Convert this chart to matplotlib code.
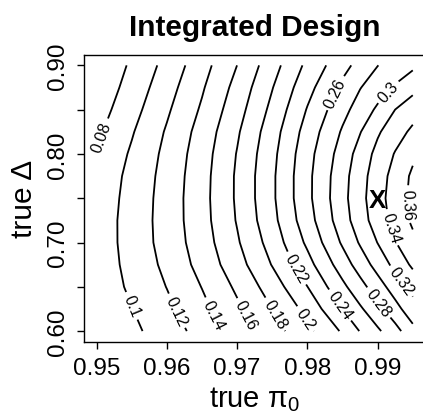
import numpy as np
import matplotlib.pyplot as plt

plt.rcParams['font.family'] = ['Liberation Sans', 'DejaVu Sans']
plt.rcParams['mathtext.fontset'] = 'custom'
plt.rcParams['mathtext.rm'] = 'Liberation Sans'
plt.rcParams['mathtext.it'] = 'Liberation Sans:italic'

# grid: true pi0 (columns) x true Delta (rows)
pi0 = [0.95, 0.955, 0.96, 0.965, 0.97, 0.975, 0.98, 0.985, 0.9875, 0.99, 0.9925, 0.995]
delta = [0.600, 0.625, 0.650, 0.675, 0.700, 0.725, 0.750, 0.775, 0.800, 0.825, 0.850, 0.875, 0.900]
z = [
    [0.0832, 0.0955, 0.1102, 0.1275, 0.1490, 0.1713, 0.1949, 0.2225, 0.2409, 0.2568, 0.2728, 0.2940],
    [0.0855, 0.0995, 0.1154, 0.1347, 0.1563, 0.1801, 0.2061, 0.2404, 0.2571, 0.2738, 0.2931, 0.3122],
    [0.0876, 0.1035, 0.1205, 0.1406, 0.1636, 0.1898, 0.2198, 0.2554, 0.2730, 0.2911, 0.3096, 0.3263],
    [0.0884, 0.1061, 0.1248, 0.1469, 0.1719, 0.2010, 0.2329, 0.2699, 0.2889, 0.3075, 0.3257, 0.3437],
    [0.0888, 0.1077, 0.1277, 0.1505, 0.1777, 0.2084, 0.2437, 0.2827, 0.3021, 0.3205, 0.3391, 0.3550],
    [0.0888, 0.1078, 0.1285, 0.1526, 0.1814, 0.2142, 0.2514, 0.2911, 0.3111, 0.3295, 0.3471, 0.3635],
    [0.0877, 0.1068, 0.1283, 0.1532, 0.1828, 0.2166, 0.2549, 0.2939, 0.3137, 0.3322, 0.3496, 0.3650],
    [0.0862, 0.1053, 0.1272, 0.1525, 0.1828, 0.2166, 0.2549, 0.2927, 0.3122, 0.3305, 0.3474, 0.3635],
    [0.0810, 0.1027, 0.1252, 0.1508, 0.1810, 0.2147, 0.2528, 0.2888, 0.3078, 0.3259, 0.3413, 0.3560],
    [0.0761, 0.0983, 0.1221, 0.1477, 0.1774, 0.2112, 0.2482, 0.2823, 0.2990, 0.3174, 0.3316, 0.3439],
    [0.0707, 0.0928, 0.1171, 0.1427, 0.1719, 0.2052, 0.2413, 0.2738, 0.2886, 0.3033, 0.3201, 0.3317],
    [0.0659, 0.0877, 0.1119, 0.1378, 0.1665, 0.1992, 0.2333, 0.2645, 0.2792, 0.2906, 0.3021, 0.3137],
    [0.0620, 0.0831, 0.1064, 0.1323, 0.1601, 0.1920, 0.2246, 0.2534, 0.2667, 0.2796, 0.2886, 0.2960],
]
levels = [0.08, 0.10, 0.12, 0.14, 0.16, 0.18, 0.20, 0.22, 0.24, 0.26, 0.28, 0.30, 0.32, 0.34, 0.36]
design = (0.99, 0.75)

# where the contour labels sit
label_spots = [(0.9506, 0.820), (0.9550, 0.6285), (0.9622, 0.6262), (0.9669, 0.6195),
               (0.9716, 0.6195), (0.9757, 0.6206), (0.9797, 0.6139), (0.9785, 0.6713),
               (0.9847, 0.6296), (0.9835, 0.8706), (0.9901, 0.6319), (0.9914, 0.8706),
               (0.9932, 0.6555), (0.9921, 0.7174), (0.9945, 0.7434)]

fig = plt.figure(figsize=(4.23, 4.14), dpi=100)
ax = fig.add_axes([0.1986, 0.1722, 0.8071, 0.6932])

cs = ax.contour(pi0, delta, np.array(z), levels=levels, colors='black', linewidths=1.3)
ax.clabel(cs, fmt=lambda v: f"{v:g}", fontsize=11.5, inline=True, inline_spacing=5,
          manual=label_spots)
ax.annotate("X", design, xytext=(0, -1.5), textcoords='offset points',
            fontsize=18.5, fontweight='bold', ha='center', va='center')

ax.set_xlim(0.9482, 0.9968)
ax.set_ylim(0.588, 0.912)
ax.set_xticks([0.95, 0.96, 0.97, 0.98, 0.99])
ax.set_xticklabels(["0.95", "0.96", "0.97", "0.98", "0.99"])
ax.set_yticks([0.60, 0.65, 0.70, 0.75, 0.80, 0.85, 0.90])
ax.set_yticklabels(["0.60", "", "0.70", "", "0.80", "", "0.90"], rotation=90, va='center')
ax.tick_params(direction='out', length=5, width=1, labelsize=17.5, pad=6)
for s in ax.spines.values():
    s.set_linewidth(1.0)

ax.set_xlabel(r"true $\mathregular{\pi_0}$", fontsize=21, labelpad=4)
ax.set_ylabel("true Δ", fontsize=21.5, labelpad=6)
ax.set_title("Integrated Design", fontsize=21.4, fontweight='bold', pad=14)

fig.savefig("out.png", dpi=100)
